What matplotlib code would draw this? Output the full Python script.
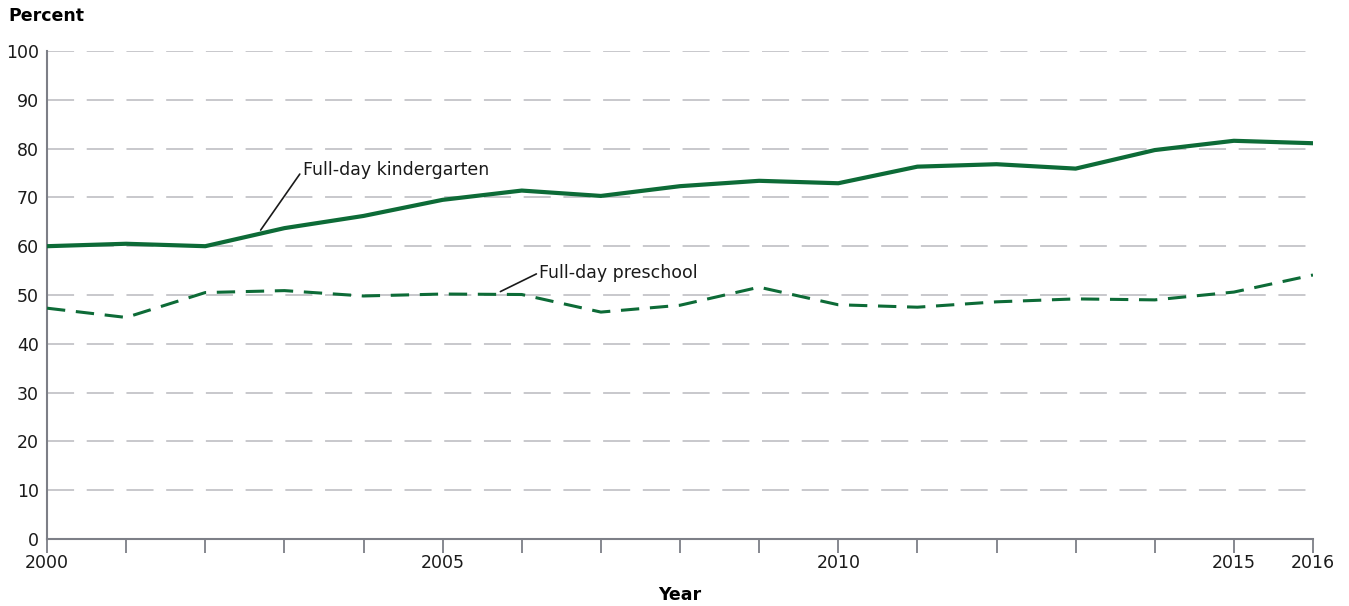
import matplotlib
matplotlib.use("Agg")
import matplotlib.pyplot as plt

years = list(range(2000, 2017))
kindergarten = [60.0, 60.5, 60.0, 63.7, 66.2, 69.5, 71.4, 70.3, 72.3, 73.4, 72.9,
                76.3, 76.8, 75.9, 79.7, 81.6, 81.1]
preschool = [47.3, 45.4, 50.5, 50.9, 49.8, 50.2, 50.1, 46.5, 47.9, 51.6, 48.0,
             47.5, 48.6, 49.2, 49.0, 50.6, 54.1]
yticks = list(range(0, 101, 10))
xtick_labels = {2000: "2000", 2005: "2005", 2010: "2010", 2015: "2015", 2016: "2016"}

plt.rcParams['font.family'] = ['DejaVu Sans']
green = "#0d6b37"
axis_gray = "#7d7f87"
fs = 12.5

fig = plt.figure(figsize=(13.49, 6.06), dpi=100)
ax = fig.add_axes([47/1349, 1-539/606, (1313-47)/1349, (539-51)/606])

for y in yticks[1:]:
    ax.axhline(y, color="#c4c4c8", lw=1.3, dashes=(15, 7), zorder=1)

ax.plot(years, kindergarten, color=green, lw=3.0, solid_joinstyle="round", zorder=3)
ax.plot(years, preschool, color=green, lw=2.2, dashes=(6, 3.5), zorder=3)

ax.set_xlim(2000, 2016)
ax.set_ylim(0, 100)
ax.set_yticks(yticks)
ax.set_yticklabels([str(v) for v in yticks], fontsize=fs, color="#1a1a1a")
ax.tick_params(axis="y", length=0, pad=6)
ax.set_xticks(years)
ax.set_xticklabels([xtick_labels.get(y, "") for y in years], fontsize=fs, color="#1a1a1a")
ax.tick_params(axis="x", length=10, width=1.3, color=axis_gray, pad=1)

for s in ["top", "right"]:
    ax.spines[s].set_visible(False)
for s in ["left", "bottom"]:
    ax.spines[s].set_color(axis_gray)
    ax.spines[s].set_linewidth(1.5)

ax.set_xlabel("Year", fontsize=fs, fontweight="bold", labelpad=10)
fig.text(8/1349, 1-16/606, "Percent", fontsize=fs, fontweight="bold", va="center", ha="left")

# annotations
ax.annotate("Full-day kindergarten", xy=(2002.7, 63.3), xytext=(2003.23, 75.6),
            fontsize=fs, va="center", ha="left", color="#1a1a1a",
            arrowprops=dict(arrowstyle="-", color="#1a1a1a", lw=1.2,
                            shrinkA=0, shrinkB=0, relpos=(0, 0.5)))
ax.annotate("Full-day preschool", xy=(2005.73, 50.7), xytext=(2006.22, 54.6),
            fontsize=fs, va="center", ha="left", color="#1a1a1a",
            arrowprops=dict(arrowstyle="-", color="#1a1a1a", lw=1.2,
                            shrinkA=0, shrinkB=0, relpos=(0, 0.5)))

fig.savefig("out.png", dpi=100)
